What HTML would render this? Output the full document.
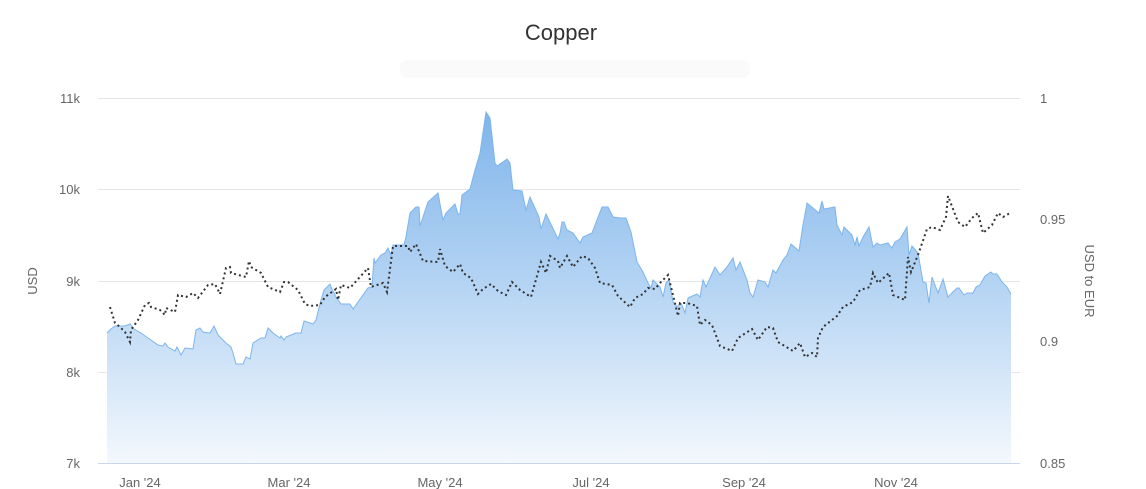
<!DOCTYPE html>
<html><head><meta charset="utf-8"><style>
html,body{margin:0;padding:0;background:#fff;}
svg{display:block;font-family:"Liberation Sans",sans-serif;}
</style></head><body>
<svg width="1146" height="489" viewBox="0 0 1146 489" xmlns="http://www.w3.org/2000/svg">
<defs>
<linearGradient id="g" gradientUnits="userSpaceOnUse" x1="0" y1="98" x2="0" y2="463">
<stop offset="0" stop-color="#7cb2ea"/>
<stop offset="0.5" stop-color="#b3d3f3"/>
<stop offset="1" stop-color="#f3f8fd"/>
</linearGradient>
</defs>
<text x="561" y="40" text-anchor="middle" font-size="22" fill="#333">Copper</text>
<rect x="400" y="60" width="350" height="18" rx="8" fill="#fafafa"/>
<g stroke="#e6e6e6" stroke-width="1">
<line x1="98" y1="98.5" x2="1020" y2="98.5"/>
<line x1="98" y1="189.5" x2="1020" y2="189.5"/>
<line x1="98" y1="281.5" x2="1020" y2="281.5"/>
<line x1="98" y1="372.5" x2="1020" y2="372.5"/>
</g>
<path id="top" fill="url(#g)" stroke="none" d="M107,333 L111,329 115,326 125,326 130,324 134,329 141,333 148,338 158,345 163,346 165,343 168,347 175,351 177,347 181,355 185,348 193,349 196,330 200,328 203,332 210,333 214,326 218,335 226,343 231,347 233,353 236,364 243,364 246,357 250,359 253,343 261,338 265,338 268,328 273,333 280,338 281,336 284,340 286,337 296,333 301,333 304,321 313,324 316,320 321,300 324,290 330,284 331,287 336,297 341,304 350,304 353,309 368,288 372,287 374,258 375,263 381,255 385,253 388,248 391,255 393,245 404,245 406,237 410,213 416,207 419,207 420,226 428,202 438,193 443,220 446,213 455,204 458,214 460,214 462,195 470,189 475,170 480,153 486,112 490,118 495,163 497,166 507,159 510,163 513,190 522,191 526,210 530,197 539,217 541,229 546,214 558,239 560,233 562,222 564,222 567,230 573,233 580,243 583,237 592,233 595,225 602,207 608,207 613,217 620,218 626,218 631,232 637,262 643,272 648,283 651,288 653,280 660,287 663,297 666,283 669,280 673,302 677,307 681,303 685,313 688,298 697,294 700,297 703,280 706,287 715,267 720,275 727,267 733,258 736,270 740,262 747,280 750,293 753,297 758,280 765,282 768,287 773,270 776,273 783,260 787,255 791,244 799,251 803,225 807,203 819,213 822,201 824,209 835,207 837,225 842,235 844,227 852,235 855,245 857,237 859,246 863,237 869,227 873,247 877,243 880,245 888,243 892,248 895,242 900,239 907,227 909,255 912,246 918,253 923,282 926,283 929,303 932,277 938,293 943,279 948,297 957,288 959,288 964,295 967,293 973,293 976,287 980,285 985,276 991,272 993,274 997,274 1002,282 1007,287 1011,294 L1011,463 L107,463 Z"/>
<polyline fill="none" stroke="#7cb5ec" stroke-width="1" points="107,333 111,329 115,326 125,326 130,324 134,329 141,333 148,338 158,345 163,346 165,343 168,347 175,351 177,347 181,355 185,348 193,349 196,330 200,328 203,332 210,333 214,326 218,335 226,343 231,347 233,353 236,364 243,364 246,357 250,359 253,343 261,338 265,338 268,328 273,333 280,338 281,336 284,340 286,337 296,333 301,333 304,321 313,324 316,320 321,300 324,290 330,284 331,287 336,297 341,304 350,304 353,309 368,288 372,287 374,258 375,263 381,255 385,253 388,248 391,255 393,245 404,245 406,237 410,213 416,207 419,207 420,226 428,202 438,193 443,220 446,213 455,204 458,214 460,214 462,195 470,189 475,170 480,153 486,112 490,118 495,163 497,166 507,159 510,163 513,190 522,191 526,210 530,197 539,217 541,229 546,214 558,239 560,233 562,222 564,222 567,230 573,233 580,243 583,237 592,233 595,225 602,207 608,207 613,217 620,218 626,218 631,232 637,262 643,272 648,283 651,288 653,280 660,287 663,297 666,283 669,280 673,302 677,307 681,303 685,313 688,298 697,294 700,297 703,280 706,287 715,267 720,275 727,267 733,258 736,270 740,262 747,280 750,293 753,297 758,280 765,282 768,287 773,270 776,273 783,260 787,255 791,244 799,251 803,225 807,203 819,213 822,201 824,209 835,207 837,225 842,235 844,227 852,235 855,245 857,237 859,246 863,237 869,227 873,247 877,243 880,245 888,243 892,248 895,242 900,239 907,227 909,255 912,246 918,253 923,282 926,283 929,303 932,277 938,293 943,279 948,297 957,288 959,288 964,295 967,293 973,293 976,287 980,285 985,276 991,272 993,274 997,274 1002,282 1007,287 1011,294"/>
<polyline fill="none" stroke="#333" stroke-width="2" stroke-dasharray="2,3" points="110,307 115,323 120,327 125,332 130,342 131,330 138,320 145,305 149,303 151,307 160,310 165,315 166,308 175,312 178,295 186,297 193,293 198,298 208,285 215,284 220,294 226,268 230,267 231,273 246,277 249,261 251,267 261,273 268,287 280,292 284,282 288,282 298,290 305,304 310,306 320,305 325,297 336,289 338,300 341,285 350,288 368,268 371,287 383,283 387,292 393,246 408,246 410,252 416,244 423,261 438,262 440,249 445,266 453,272 460,264 463,273 471,278 478,294 483,289 491,284 498,291 506,295 512,282 520,290 531,297 541,262 546,273 550,256 558,261 560,268 567,256 573,267 582,256 588,258 595,268 600,283 612,285 618,296 630,307 635,298 643,294 648,288 655,289 660,283 668,275 673,295 678,316 680,303 687,303 697,306 700,325 705,320 712,325 720,346 732,351 738,338 752,329 758,340 767,327 773,328 778,342 793,351 800,343 805,357 812,353 817,357 818,338 823,327 837,316 843,307 853,302 860,290 870,287 873,273 878,283 889,273 893,295 905,300 908,257 911,272 918,255 927,229 932,227 940,230 946,217 948,196 958,222 965,227 972,218 978,213 983,233 992,225 998,213 1003,217 1010,213"/>
<line x1="98" y1="463.5" x2="1020" y2="463.5" stroke="#ccd6eb" stroke-width="1"/>
<g font-size="13" fill="#666" text-anchor="end">
<text x="80" y="103">11k</text><text x="80" y="194">10k</text><text x="80" y="286">9k</text><text x="80" y="377">8k</text><text x="80" y="468">7k</text>
</g>
<g font-size="13" fill="#666" text-anchor="start">
<text x="1040" y="103">1</text><text x="1040" y="224">0.95</text><text x="1040" y="346">0.9</text><text x="1040" y="468">0.85</text>
</g>
<g font-size="13" fill="#666" text-anchor="middle">
<text x="140" y="487">Jan '24</text><text x="289" y="487">Mar '24</text><text x="440" y="487">May '24</text><text x="591" y="487">Jul '24</text><text x="744" y="487">Sep '24</text><text x="896" y="487">Nov '24</text>
</g>
<text transform="translate(37,281) rotate(-90)" text-anchor="middle" font-size="13" fill="#666">USD</text>
<text transform="translate(1085,281) rotate(90)" text-anchor="middle" font-size="13" fill="#666">USD to EUR</text>
</svg>
</body></html>
